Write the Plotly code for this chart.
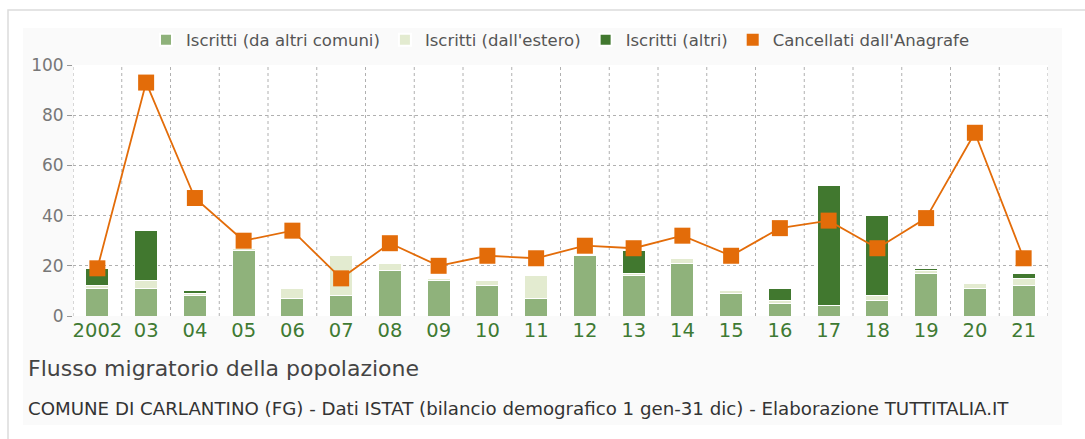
import plotly.graph_objects as go

# Anni del bilancio demografico
anni = ["2002", "03", "04", "05", "06", "07", "08", "09", "10", "11",
        "12", "13", "14", "15", "16", "17", "18", "19", "20", "21"]

# Iscritti e cancellati per anno
iscritti_altri_comuni = [11, 11, 8, 26, 7, 8, 18, 14, 12, 7, 24, 16, 21, 9, 5, 4, 6, 17, 11, 12]
iscritti_estero = [1, 3, 1, 1, 4, 16, 3, 1, 2, 9, 0, 1, 2, 1, 1, 0, 2, 1, 2, 3]
iscritti_altri = [7, 20, 1, 0, 0, 0, 0, 0, 0, 0, 0, 9, 0, 0, 5, 48, 32, 1, 0, 2]
cancellati = [19, 93, 47, 30, 34, 15, 29, 20, 24, 23, 28, 27, 32, 24, 35, 38, 27, 39, 73, 23]

C_LIGHT = "#8fb27b"
C_BEIGE = "#e3ebd0"
C_DARK = "#41782f"
C_ORANGE = "#e36c09"
FONT = "DejaVu Sans"

W, H = 1085, 439
L, R, T, B = 73, 1048, 65, 316

fig = go.Figure()
bar_line = dict(color="white", width=1)
fig.add_trace(go.Bar(x=anni, y=iscritti_altri_comuni, name="Iscritti (da altri comuni)",
                     marker=dict(color=C_LIGHT, line=bar_line), width=0.47))
fig.add_trace(go.Bar(x=anni, y=iscritti_estero, name="Iscritti (dall'estero)",
                     marker=dict(color=C_BEIGE, line=bar_line), width=0.47))
fig.add_trace(go.Bar(x=anni, y=iscritti_altri, name="Iscritti (altri)",
                     marker=dict(color=C_DARK, line=bar_line), width=0.47))
fig.add_trace(go.Scatter(x=anni, y=cancellati, mode="lines", showlegend=False,
                         line=dict(color=C_ORANGE, width=1.8), hoverinfo="skip"))
fig.add_trace(go.Scatter(x=anni, y=cancellati, mode="markers", name="Cancellati dall'Anagrafe",
                         marker=dict(symbol="square", size=16, color=C_ORANGE,
                                     line=dict(color=C_ORANGE, width=0))))

shapes = [
    # cornice esterna e riquadro grigio chiaro
    dict(type="rect", xref="paper", yref="paper",
         x0=(8 - L) / (R - L), x1=(W + 5 - L) / (R - L),
         y0=(B - (H + 5)) / (B - T), y1=(B - 10) / (B - T),
         line=dict(color="#dcdcdc", width=1.5), fillcolor="white", layer="below"),
    dict(type="rect", xref="paper", yref="paper",
         x0=(23 - L) / (R - L), x1=(1062 - L) / (R - L),
         y0=(B - 425) / (B - T), y1=(B - 28) / (B - T),
         line=dict(width=0), fillcolor="#fafafa", layer="below"),
    dict(type="rect", xref="paper", yref="paper", x0=0, x1=1, y0=0, y1=1,
         line=dict(width=0), fillcolor="white", layer="below"),
]
# linee verticali tratteggiate tra le categorie
for k in range(len(anni) + 1):
    shapes.append(dict(type="line", xref="x", yref="paper", x0=k - 0.5, x1=k - 0.5, y0=0, y1=1,
                       line=dict(color="#b0b0b0", width=1, dash="dot"), layer="below"))

fig.update_layout(
    width=W, height=H,
    margin=dict(l=L, r=W - R, t=T, b=H - B),
    barmode="stack",
    bargap=0.5,
    paper_bgcolor="white",
    plot_bgcolor="rgba(0,0,0,0)",
    font=dict(family=FONT, color="#555"),
    shapes=shapes,
    showlegend=True,
    legend=dict(orientation="h", x=0.5, xanchor="center", y=(B - 40) / (B - T), yanchor="middle",
                font=dict(size=16.5, color="#555", family=FONT), bgcolor="rgba(0,0,0,0)",
                traceorder="normal", itemsizing="constant"),
    xaxis=dict(type="category", range=[-0.5, len(anni) - 0.5], showgrid=False,
               tickfont=dict(size=19.5, color="#3f7a33", family=FONT), ticks="",
               showline=False, zeroline=False, fixedrange=True),
    yaxis=dict(range=[0, 100], tickvals=[0, 20, 40, 60, 80, 100], showgrid=True,
               gridcolor="#b0b0b0", griddash="dot", gridwidth=1,
               tickfont=dict(size=17, color="#777", family=FONT),
               ticks="outside", ticklen=5, tickcolor="#999", showline=False, zeroline=False),
    annotations=[
        dict(text="Flusso migratorio della popolazione", xref="paper", yref="paper",
             x=(26 - L) / (R - L), y=(B - 368) / (B - T), xanchor="left", yanchor="middle",
             showarrow=False, font=dict(size=22, color="#444", family=FONT)),
        dict(text="COMUNE DI CARLANTINO (FG) - Dati ISTAT (bilancio demografico 1 gen-31 dic) - Elaborazione TUTTITALIA.IT",
             xref="paper", yref="paper",
             x=(26 - L) / (R - L), y=(B - 408) / (B - T), xanchor="left", yanchor="middle",
             showarrow=False, font=dict(size=18.2, color="#333", family=FONT)),
    ],
)

fig.write_html("out.html")
